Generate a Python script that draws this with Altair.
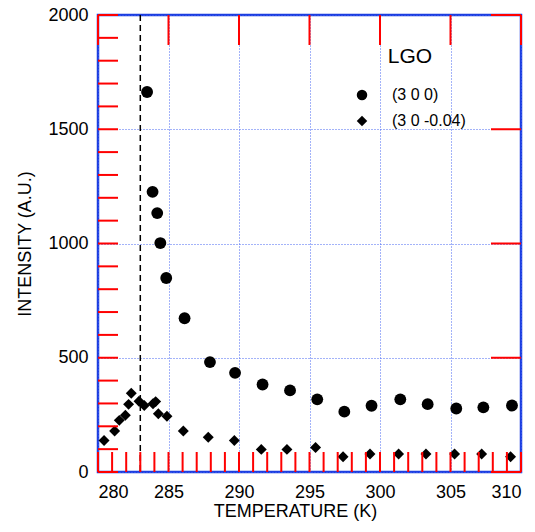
import altair as alt
import pandas as pd

# ---- data ----
SERIES = ["(3 0 0)", "(3 0 -0.04)"]

T_300 = [283.48, 283.87, 284.2, 284.42, 284.84, 286.14, 287.94, 289.72, 291.67,
         293.62, 295.55, 297.47, 299.40, 301.44, 303.38, 305.41, 307.33, 309.36]
I_300 = [1663, 1226, 1133, 1002, 849, 673, 481, 434, 383,
         357, 318, 264, 290, 318, 297, 278, 283, 291]

T_304 = [280.43, 281.18, 281.51, 281.94, 282.17, 282.36, 282.91, 283.28, 283.90,
         284.09, 284.28, 284.89, 286.05, 287.82, 289.67, 291.58, 293.40, 295.43,
         297.38, 299.29, 301.32, 303.26, 305.29, 307.21, 309.26]
I_304 = [138, 179, 226, 248, 296, 345, 310, 291, 299,
         308, 255, 244, 179, 152, 138, 99, 99, 107,
         67, 79, 79, 79, 79, 79, 67]

T_TRANSITION = [283.0]

X_MAJOR = [280, 285, 290, 295, 300, 305, 310]
X_MINOR = list(range(280, 311))
Y_MAJOR = [0, 500, 1000, 1500, 2000]
Y_MINOR = list(range(0, 2001, 100))

df = pd.DataFrame({
    "T": T_300 + T_304,
    "I": I_300 + I_304,
    "series": [SERIES[0]] * len(T_300) + [SERIES[1]] * len(T_304),
})
df_tr = pd.DataFrame({"T": T_TRANSITION})

BLUE = "#1c3ee0"
GRID = "#4766f2"
FONT = "Liberation Sans"
W, H = 423, 457
X0, X1, Y0, Y1 = 280, 310, 0, 2000

xs = alt.Scale(domain=[X0, X1], nice=False, zero=False)
ys = alt.Scale(domain=[Y0, Y1], nice=False, zero=False)

x_main = alt.Axis(orient="bottom", values=X_MAJOR, ticks=False, domain=False,
                  format="d", labelPadding=11,
                  labelFont=FONT, labelFontSize=18, labelColor="black",
                  grid=True, gridColor=GRID, gridDash=[1, 2], gridWidth=1,
                  title="TEMPERATURE (K)", titleFont=FONT, titleFontSize=18,
                  titleFontWeight="normal", titleColor="black", titlePadding=1,
                  titleX=197)
y_main = alt.Axis(orient="left", values=Y_MAJOR, ticks=False, domain=False,
                  format="d", labelPadding=10,
                  labelFont=FONT, labelFontSize=18, labelColor="black",
                  grid=True, gridColor=GRID, gridDash=[1, 2], gridWidth=1,
                  title="INTENSITY (A.U.)", titleFont=FONT, titleFontSize=18,
                  titleFontWeight="normal", titleColor="black", titlePadding=13)

points = alt.Chart(df).mark_point(filled=True, opacity=1, color="black").encode(
    x=alt.X("T:Q", scale=xs, axis=x_main),
    y=alt.Y("I:Q", scale=ys, axis=y_main),
    shape=alt.Shape("series:N",
                    scale=alt.Scale(domain=SERIES, range=["circle", "diamond"]),
                    legend=alt.Legend(title="LGO", orient="none", legendX=256, legendY=31,
                                      titleFont=FONT, titleFontSize=21,
                                      titleFontWeight="normal", titleColor="black",
                                      titleAnchor="middle", titlePadding=20,
                                      labelFont=FONT, labelFontSize=16, labelColor="black",
                                      labelOffset=22, symbolSize=110,
                                      symbolFillColor="black", symbolStrokeWidth=0,
                                      rowPadding=10, padding=0)),
    size=alt.condition(alt.datum.series == SERIES[0], alt.value(140), alt.value(120)),
)

PX_Y = (Y1 - Y0) / H
PX_X = (X1 - X0) / W


def xticks(values, base, length_px, direction):
    d = pd.DataFrame({"v": values, "a": [base] * len(values),
                      "b": [base + direction * length_px * PX_Y] * len(values)})
    return alt.Chart(d).mark_rule(color="red", strokeWidth=2).encode(
        x=alt.X("v:Q", scale=xs, axis=None),
        y=alt.Y("a:Q", scale=ys, axis=None), y2="b:Q")


def yticks(values, base, length_px, direction):
    d = pd.DataFrame({"v": values, "a": [base] * len(values),
                      "b": [base + direction * length_px * PX_X] * len(values)})
    return alt.Chart(d).mark_rule(color="red", strokeWidth=2).encode(
        y=alt.Y("v:Q", scale=ys, axis=None),
        x=alt.X("a:Q", scale=xs, axis=None), x2="b:Q")


tick_layers = [
    xticks(X_MINOR, Y0, 20, 1), xticks(X_MAJOR, Y1, 30, -1),
    yticks(Y_MINOR, X0, 20, 1), yticks(Y_MAJOR, X1, 30, -1),
]

transition = alt.Chart(df_tr).mark_rule(color="black", strokeDash=[6, 4], strokeWidth=1.5).encode(
    x=alt.X("T:Q", scale=xs, axis=None),
)

chart = alt.layer(
    points, transition, *tick_layers
).resolve_axis(
    x="independent", y="independent"
).properties(
    width=W, height=H,
    autosize=alt.AutoSizeParams(type="none"),
    padding={"left": 90, "top": 7, "right": 6, "bottom": 52},
).configure_view(
    stroke=BLUE, strokeWidth=2.5
)

chart.save("out.html", embed_options={"renderer": "svg", "actions": False})
